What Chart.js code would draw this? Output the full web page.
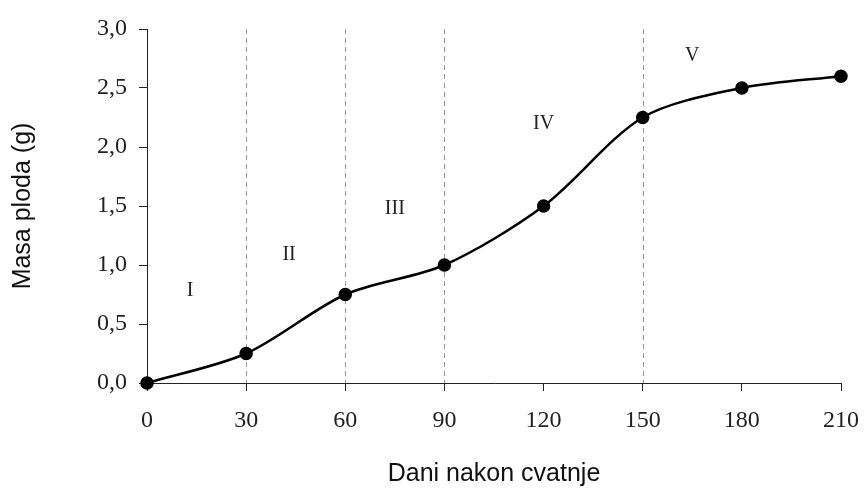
<!DOCTYPE html>
<html>
<head>
<meta charset="utf-8">
<script src="https://cdn.jsdelivr.net/npm/chart.js@4/dist/chart.umd.min.js"></script>
<style>
  html, body { margin: 0; padding: 0; background: #fff; }
  #wrap { width: 867px; height: 489px; }
</style>
</head>
<body>
<div id="wrap"><canvas id="chart"></canvas></div>
<script>
// days after flowering and fruit mass
const days = [0, 30, 60, 90, 120, 150, 180, 210];
const mass = [0, 0.25, 0.75, 1.0, 1.5, 2.25, 2.5, 2.6];

// growth phase boundaries (dashed lines) and phase labels
const phaseBounds = [30, 60, 90, 150];
const phaseNames = ['I', 'II', 'III', 'IV', 'V'];
const phaseLabelX = [13, 43, 75, 120, 165];
const phaseLabelY = [0.78, 1.09, 1.48, 2.2, 2.77];

const fmt = v => v.toFixed(1).replace('.', ',');

const phasePlugin = {
    id: 'phases',
    beforeDatasetsDraw(chart) {
        const { ctx, chartArea, scales } = chart;
        ctx.save();
        ctx.strokeStyle = '#999';
        ctx.lineWidth = 1;
        ctx.setLineDash([5, 4]);
        phaseBounds.forEach(d => {
            const x = Math.round(scales.x.getPixelForValue(d)) + 0.5;
            ctx.beginPath();
            ctx.moveTo(x, chartArea.top);
            ctx.lineTo(x, chartArea.bottom);
            ctx.stroke();
        });
        ctx.setLineDash([]);
        ctx.fillStyle = '#222';
        ctx.font = '20px "Liberation Serif", serif';
        ctx.textAlign = 'center';
        ctx.textBaseline = 'middle';
        phaseNames.forEach((n, i) => {
            ctx.fillText(n, scales.x.getPixelForValue(phaseLabelX[i]), scales.y.getPixelForValue(phaseLabelY[i]));
        });
        ctx.restore();
    }
};

new Chart(document.getElementById('chart'), {
    type: 'line',
    data: {
        datasets: [{
            data: days.map((d, i) => ({ x: d, y: mass[i] })),
            borderColor: '#000',
            backgroundColor: '#000',
            borderWidth: 2.5,
            pointRadius: 5.5,
            pointHoverRadius: 5.5,
            tension: 0.3,
            clip: false
        }]
    },
    options: {
        responsive: true,
        maintainAspectRatio: false,
        animation: false,
        layout: { padding: { top: 29, right: 26, left: 4, bottom: 0 } },
        plugins: { legend: { display: false }, tooltip: { enabled: false } },
        scales: {
            x: {
                type: 'linear',
                min: 0,
                max: 210,
                afterFit: s => { s.height = 106; s.paddingLeft = 0; s.paddingRight = 0; },
                border: { display: true, color: '#222', width: 1 },
                grid: { drawOnChartArea: false, drawTicks: true, tickLength: 8, color: '#222' },
                ticks: {
                    stepSize: 30,
                    color: '#222',
                    padding: 15,
                    font: { family: '"Liberation Serif", serif', size: 24 }
                },
                title: {
                    display: true,
                    text: 'Dani nakon cvatnje',
                    color: '#111',
                    padding: { top: 10, bottom: 0 },
                    font: { family: '"Liberation Sans", Arial, sans-serif', size: 25 }
                }
            },
            y: {
                min: 0,
                max: 3,
                afterFit: s => { s.width = 143; },
                border: { display: true, color: '#222', width: 1 },
                grid: { drawOnChartArea: false, drawTicks: true, tickLength: 8, color: '#222' },
                ticks: {
                    stepSize: 0.5,
                    color: '#222',
                    padding: 12,
                    callback: v => fmt(v),
                    font: { family: '"Liberation Serif", serif', size: 24 }
                },
                title: {
                    display: true,
                    text: 'Masa ploda (g)',
                    color: '#111',
                    padding: { top: 4, bottom: 20 },
                    font: { family: '"Liberation Sans", Arial, sans-serif', size: 25 }
                }
            }
        }
    },
    plugins: [phasePlugin]
});
</script>
</body>
</html>
